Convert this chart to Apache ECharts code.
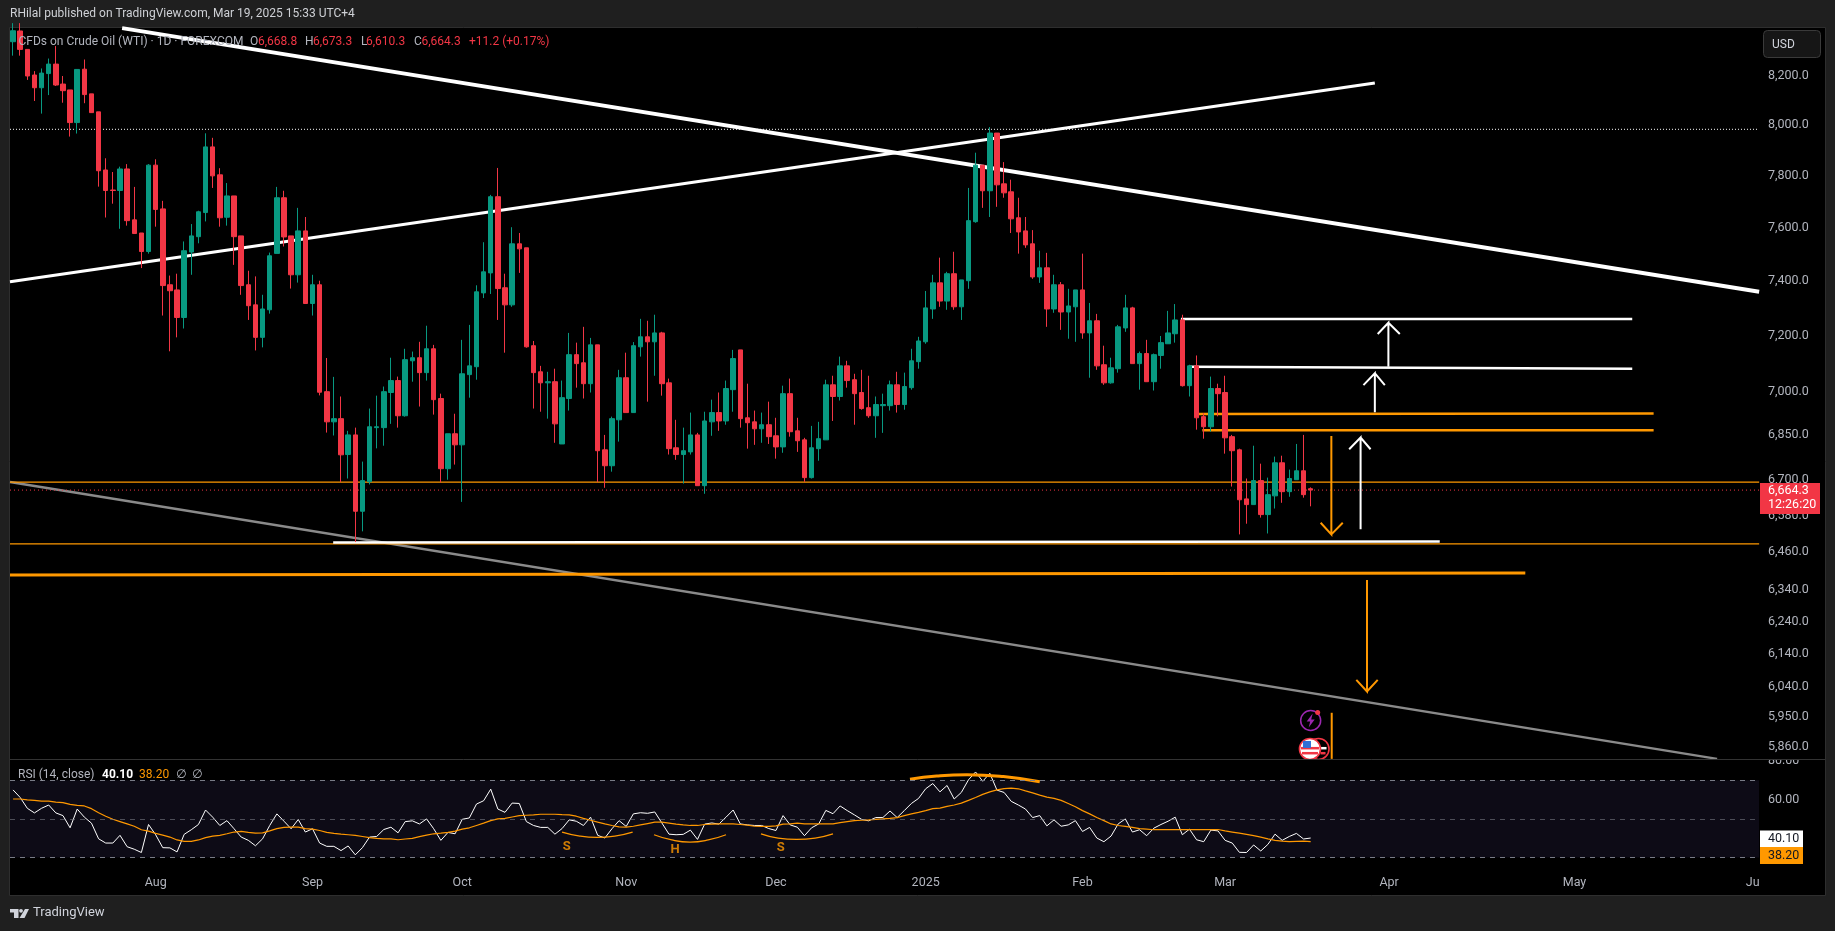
<!DOCTYPE html>
<html><head><meta charset="utf-8">
<style>html,body{margin:0;padding:0;background:#1f1f1f;overflow:hidden}#c{width:1835px;height:931px}</style>
<script src="https://cdn.jsdelivr.net/npm/echarts@6/dist/echarts.min.js"></script>
</head><body><div id="c"></div>
<script>
const FONT='Roboto, "Open Sans", sans-serif';
// ---------- candle data (1D bars, index = bar number) ----------
const opens=[8342,8387,8310,8204,8152,8210,8249,8167,8143,8011,
8228,8127,8054,7823,7745,7743,7827,7630,7580,7510,
7842,7672,7386,7367,7266,7508,7566,7658,7914,7804,
7640,7722,7569,7386,7312,7194,7294,7503,7715,7569,
7423,7588,7317,7386,7001,6896,6907,6784,6851,6594,
6692,6876,6876,6998,7040,6917,7110,7121,7068,7153,
6977,6736,6855,6817,7061,7089,7356,7430,7719,7375,
7312,7539,7524,7164,7071,7032,7036,6820,6977,7132,
7103,7029,7167,6800,6746,6903,7050,6928,7160,7196,
7178,7210,7032,6807,6784,6793,6851,6679,6896,6928,
6899,7008,7149,6910,6896,6872,6886,6848,6810,6994,
6865,6834,6706,6804,6834,7025,6984,7092,7043,6998,
6945,6917,6952,6952,7025,6956,7015,7107,7178,7297,
7393,7326,7427,7305,7401,7623,7842,7742,7969,7769,
7738,7638,7588,7539,7415,7449,7297,7386,7286,7305,
7367,7210,7254,7096,7032,7082,7228,7301,7100,7136,
7036,7129,7171,7207,7257,7022,7092,6914,6879,7012,
6998,6845,6800,6635,6616,6696,6583,6645,6756,6659,
6699,6729,6668.8];
const highs=[8420,8420,8310,8220,8231,8272,8324,8200,8143,8227,
8268,8127,8054,7869,7815,7836,7846,7757,7580,7846,
7865,7703,7420,7427,7548,7614,7665,7968,7950,7830,
7772,7722,7569,7438,7417,7349,7506,7757,7742,7569,
7676,7641,7423,7401,7120,7053,6984,6865,6876,6760,
6942,6987,7019,7121,7054,7153,7143,7178,7236,7167,
6994,6855,6924,7185,7239,7384,7545,7726,7831,7427,
7602,7580,7524,7181,7092,7071,7082,7040,7210,7175,
7232,7192,7167,6851,6914,7078,7139,7177,7261,7254,
7276,7214,7047,6903,6876,6928,6858,6931,6973,6998,
7040,7149,7149,7029,6935,6928,6966,6910,7022,7047,
6910,6841,6882,6896,7043,7057,7125,7110,7064,7078,
7057,6984,6994,7040,7071,7068,7153,7196,7363,7423,
7487,7434,7509,7404,7753,7891,7842,7993,7969,7854,
7785,7715,7641,7591,7513,7505,7423,7396,7371,7367,
7502,7319,7279,7164,7121,7239,7349,7305,7143,7185,
7136,7199,7290,7315,7276,7096,7129,6926,7054,7029,
7057,6851,6804,6703,6814,6753,6706,6777,6780,6733,
6820,6851,6673.3];
const lows=[8284,8284,8184,8098,8047,8122,8159,8091,7955,7967,
8089,8051,7758,7639,7692,7596,7608,7578,7448,7502,
7604,7273,7144,7194,7226,7423,7541,7624,7753,7604,
7608,7460,7349,7257,7147,7158,7280,7503,7529,7372,
7394,7317,7273,6988,6859,6849,6691,6703,6493,6528,
6683,6805,6814,6889,6876,6914,7036,6949,7040,6921,
6690,6699,6750,6625,6980,7043,7337,7352,7257,7139,
7305,7430,7157,6942,6931,6907,6824,6820,6935,7015,
6977,6998,6691,6672,6726,6828,6928,6928,7125,6966,
7057,6987,6784,6766,6686,6784,6679,6652,6848,6865,
6886,6931,6876,6804,6817,6824,6820,6770,6790,6845,
6793,6692,6703,6763,6834,6899,6970,7015,6886,6938,
6910,6841,6858,6935,6928,6938,7008,7082,7171,7261,
7305,7294,7294,7257,7371,7619,7676,7641,7680,7715,
7580,7502,7524,7408,7393,7232,7283,7221,7189,7178,
7189,7050,7078,7025,7029,7068,7214,7100,7008,7036,
7005,7082,7171,7175,7019,6984,6869,6838,6862,6915,
6787,6676,6518,6553,6616,6573,6521,6603,6622,6642,
6699,6639,6610.3];
const closes=[8388,8310,8200,8152,8212,8249,8163,8140,8011,8227,
8124,8051,7820,7743,7743,7827,7627,7578,7510,7842,
7670,7383,7364,7266,7513,7569,7661,7914,7800,7638,
7722,7566,7383,7309,7194,7297,7494,7715,7565,7423,
7588,7317,7386,6999,6896,6907,6783,6851,6594,6696,
6879,6879,7001,7040,6917,7114,7121,7068,7153,6973,
6736,6855,6817,7064,7092,7360,7434,7719,7372,7312,
7539,7520,7160,7068,7032,7036,6889,6980,7132,7100,
7029,7167,6797,6746,6907,7050,6928,7164,7196,7178,
7210,7029,6804,6784,6797,6851,6679,6899,6928,6899,
7012,7118,6907,6893,6872,6886,6845,6810,6994,6862,
6831,6706,6807,6838,7025,6984,7092,7040,6994,6942,
6917,6956,6956,7025,6956,7019,7110,7181,7301,7393,
7326,7427,7305,7404,7627,7842,7742,7969,7765,7734,
7634,7584,7535,7415,7449,7297,7386,7286,7308,7367,
7210,7254,7092,7032,7085,7232,7301,7100,7136,7036,
7132,7175,7210,7257,7022,7092,6910,6879,7012,6994,
6841,6797,6632,6616,6696,6583,6649,6756,6659,6703,
6729,6649,6664.3];
// ---------- RSI (14, close) and its moving average ----------
const rsi=[65.0,61.1,55.5,53.1,55.5,57.2,53.1,51.7,45.4,55.1,
50.9,47.8,39.7,37.5,37.5,41.5,35.6,34.3,32.6,47.1,
41.8,35.1,35.0,32.9,42.0,44.4,47.1,54.6,50.9,46.6,
49.1,44.9,40.6,38.9,36.1,39.7,46.6,52.6,48.8,44.9,
49.7,43.2,44.9,37.5,35.8,35.8,33.6,36.0,31.4,35.1,
40.6,40.9,44.5,45.7,42.8,48.6,49.0,47.4,50.0,44.9,
38.9,43.0,42.3,49.8,50.5,57.7,59.4,65.4,55.1,53.4,
58.2,58.0,48.6,46.6,45.6,45.6,42.1,45.0,49.5,48.8,
46.6,50.9,41.5,40.1,44.9,49.1,46.1,52.6,53.2,52.9,
53.6,47.9,42.1,41.8,42.0,44.2,39.4,47.3,47.9,47.3,
50.9,54.6,47.4,46.9,46.6,46.6,45.0,44.0,51.7,46.9,
45.7,41.3,45.4,47.4,54.4,52.7,56.7,54.3,52.1,49.8,
49.0,50.7,50.7,54.1,50.7,54.3,58.0,60.6,65.6,68.3,
64.0,67.3,60.3,63.7,70.2,74.3,69.5,73.6,64.9,63.7,
59.1,57.2,55.1,50.7,51.7,46.4,49.5,46.2,46.9,49.1,
43.5,45.6,40.1,38.2,41.1,47.4,50.0,43.2,44.4,41.3,
45.2,47.1,48.8,50.9,41.8,44.7,39.2,38.2,44.2,43.8,
38.9,37.5,32.7,32.6,36.5,33.4,36.8,42.1,38.9,40.9,
42.5,39.6,40.1];
const rsiMa=[60.3,60.3,59.9,59.6,59.2,59.2,58.7,58.4,57.5,57.0,
56.7,55.3,53.2,51.4,49.8,48.6,47.4,46.2,44.4,43.7,
42.5,41.6,40.6,39.1,38.4,38.4,39.1,40.3,41.1,41.5,
42.3,43.2,43.5,43.0,42.6,42.8,43.8,45.0,45.6,45.7,
45.7,45.0,44.7,44.0,43.0,42.5,42.1,41.8,41.5,40.9,
40.3,39.9,39.7,39.7,39.2,39.6,39.9,40.8,41.6,42.3,
42.6,43.0,43.7,44.7,45.4,46.6,47.8,49.1,50.0,50.3,
51.0,51.7,51.9,52.1,52.4,52.4,52.4,52.2,52.1,51.4,
50.3,49.3,48.3,47.4,46.6,45.9,45.7,46.2,46.9,47.6,
48.3,48.3,47.8,47.3,46.9,46.6,46.6,47.1,47.3,47.4,
47.4,47.4,47.1,46.8,46.2,46.1,46.1,46.4,47.3,47.4,
47.8,47.4,47.4,47.4,47.4,47.4,48.1,48.6,49.1,49.3,
49.5,49.8,50.0,50.3,50.7,51.7,52.6,53.4,54.3,55.3,
55.6,56.5,57.2,58.2,59.6,61.1,62.7,64.0,65.0,65.7,
65.9,65.6,64.5,63.5,62.3,61.3,60.6,59.6,58.0,56.3,
54.3,52.6,50.7,49.1,47.4,46.6,46.1,45.6,45.0,44.7,
44.4,44.4,44.4,44.5,44.5,44.5,44.5,44.5,44.5,44.5,
43.8,43.2,42.6,42.0,41.3,40.6,39.7,38.9,38.5,38.2,
38.4,38.5,38.2];
// ---------- tick labels ----------
const priceTicks=[8200,8000,7800,7600,7400,7200,7000,6850,6700,6580,6460,6340,6240,6140,6040,5950,5860];
const rsiTicks=[60,80];
const monthTicks=[20,42,63,86,107,128,150,170,193,219,244];
const monthLabels=['Aug','Sep','Oct','Nov','Dec','2025','Feb','Mar','Apr','May','Ju'];
// ---------- drawn annotations: [bar index, price] ----------
const fallingTrend=[[15.3,8399],[244.9,7360]];
const risingTrend=[[-0.43,7397],[191,8171]];
const greyTrend=[[-0.43,6691],[239,5825]];
const peakLevel=[[-0.43,7984],[244.6,7984]];
const lastLevel=[[-0.43,6664.3],[244.9,6664.3]];
const orangeThinA=[[-0.43,6691],[244.9,6691]];
const orangeThinB=[[-0.43,6487],[244.9,6487]];
const orangeThick=[[-0.43,6387],[212.1,6393]];
const supportWhite=[[44.9,6492],[200.1,6495]];
const orangeUpper=[[166.3,6923],[230.1,6925]];
const orangeLower=[[166.8,6867],[230.1,6867]];
const whiteUpper=[[163.8,7260],[227.1,7260]];
const whiteLower=[[164.9,7089],[227.1,7082]];
const arrowW1=[[192.9,7089],[192.9,7247],[191.4,7206],[192.9,7247],[194.5,7206]];
const arrowW2=[[191,6929],[191,7066],[189.4,7024],[191,7066],[192.4,7024]];
const arrowW3=[[189,6535],[189,6842],[187.4,6802],[189,6842],[190.4,6802]];
const arrowO1=[[184.9,6847],[184.9,6518],[183.4,6556],[184.9,6518],[186.5,6556]];
const arrowO2=[[189.9,6371],[189.9,6025],[188.4,6060],[189.9,6025],[191.4,6060]];
const arrowO3=[[184.95,5961],[184.95,5825]];
// RSI pane drawings: [bar index, rsi]
const arcS1=[[77,43.2],[79.5,41.1],[81.9,40.4],[84.4,41.1],[86.9,43.2]];
const arcH=[[89.9,41.8],[92.4,39.1],[94.95,38.0],[97.5,39.1],[100,41.8]];
const arcS2=[[104.9,42.3],[107.3,40.1],[109.9,39.4],[112.5,40.1],[115,42.3]];
const arcTop=[[125.8,70.5],[129.55,72.2],[133.8,72.9],[138.9,71.9],[144,69.2]];
const patternLabels=[[77.65,35.8,'S'],[92.84,34.1,'H'],[107.67,35.0,'S']];
const eventIcons=[[183.1,5854,'flagBack'],[181.9,5854,'flag'],[182,5938,'bolt']];

const X_MIN=-0.428,X_MAX=244.88;
const ORANGE='#ff9800',GREY='#b2b5be',RED='#f23645',GREEN='#089981';
const line=(data,color,width,extra)=>({type:'line',data,showSymbol:false,symbol:'none',silent:true,animation:false,
  xAxisIndex:0,yAxisIndex:0,z:2,lineStyle:Object.assign({color,width,cap:'butt',join:'miter'},extra||{})});
const rline=(data,color,width,smooth)=>({type:'line',data,showSymbol:false,symbol:'none',silent:true,animation:false,smooth:smooth||false,
  xAxisIndex:1,yAxisIndex:1,z:4,lineStyle:{color,width}});
const fmtPrice=v=>v.toLocaleString('en-US',{minimumFractionDigits:1,maximumFractionDigits:1});
const T=(x,y,text,fill,o)=>({type:'text',x,y,z:50,silent:true,style:Object.assign({text,fill,font:'12px '+FONT,textVerticalAlign:'middle'},o||{})});
const R=(x,y,w,h,fill,o)=>({type:'rect',silent:true,z:40,shape:{x,y,width:w,height:h,r:(o&&o.r)||0},style:{fill,stroke:o&&o.stroke,lineWidth:o&&o.lw}});

const flagIcon=(params,api)=>{
  const d=eventIcons[params.dataIndex],c=api.coord([d[0],d[1]]),kind=d[2];
  let ch=[];
  if(kind==='bolt'){
    ch=[{type:'circle',shape:{cx:0,cy:0,r:10},style:{fill:'#000',stroke:'#9c27b0',lineWidth:1.5}},
        {type:'polygon',shape:{points:[[2,-7],[-4,1],[-0.5,1],[-2,7],[4,-1],[0.5,-1]]},style:{fill:'#9c27b0'}},
        {type:'circle',shape:{cx:7,cy:-8,r:2.5},style:{fill:RED}}];
  }else{
    const back=kind==='flagBack';
    ch=[{type:'circle',shape:{cx:0,cy:0,r:10.5},style:{fill:back?'#000':'#fff',stroke:RED,lineWidth:1.6}},
        {type:'rect',shape:{x:back?2:-9,y:-2,width:back?6:18,height:2.5},style:{fill:back?'#fff':RED}},
        {type:'rect',shape:{x:back?2:-8,y:3,width:back?5:16,height:2.5},style:{fill:back?'#f23645':RED}}];
    if(!back)ch.push({type:'rect',shape:{x:-7,y:-8,width:8,height:7},style:{fill:'#2f6fd6'}});
  }
  return {type:'group',x:c[0],y:c[1],children:ch};
};

const option={
  animation:false,backgroundColor:'#1f1f1f',
  grid:[{left:10,top:28,width:1749,height:731},{left:10,top:760,width:1749,height:107}],
  xAxis:[
    {gridIndex:0,type:'value',min:X_MIN,max:X_MAX,show:false,splitLine:{show:false}},
    {gridIndex:1,type:'value',min:X_MIN,max:X_MAX,splitLine:{show:false},axisLine:{show:false},axisTick:{show:false},
     axisLabel:{customValues:monthTicks,color:GREY,fontFamily:FONT,fontSize:12.5,margin:9,hideOverlap:false,showMinLabel:true,showMaxLabel:true,
       formatter:v=>monthLabels[monthTicks.indexOf(v)]||''}}
  ],
  yAxis:[
    {gridIndex:0,type:'log',logBase:10,min:5824.6,max:8399.5,position:'right',splitLine:{show:false},axisLine:{show:false},axisTick:{show:false},
     axisLabel:{customValues:priceTicks,color:GREY,fontFamily:FONT,fontSize:12.5,margin:9,formatter:v=>fmtPrice(v)}},
    {gridIndex:1,type:'value',min:25.1,max:80.5,position:'right',splitLine:{show:false},axisLine:{show:false},axisTick:{show:false},
     axisLabel:{customValues:rsiTicks,color:GREY,fontFamily:FONT,fontSize:12.5,margin:9,formatter:v=>v.toFixed(2)}}
  ],
  series:[
    line(greyTrend,'#8a8a8a',2.5),
    line(orangeThinA,ORANGE,1.2),
    line(orangeThinB,ORANGE,1.2),
    line(peakLevel,'#ffffff',1,{type:[1,2]}),
    line(lastLevel,RED,1,{type:[1,3]}),
    line(fallingTrend,'#ffffff',4),
    line(risingTrend,'#ffffff',3),
    line(orangeThick,ORANGE,3),
    line(supportWhite,'#ffffff',2.5),
    line(orangeUpper,ORANGE,2.5),
    line(orangeLower,ORANGE,2.5),
    line(whiteUpper,'#ffffff',2.5),
    line(whiteLower,'#ffffff',2.5),
    line(arrowW1,'#ffffff',2),line(arrowW2,'#ffffff',2),line(arrowW3,'#ffffff',2),
    line(arrowO1,ORANGE,2),line(arrowO2,ORANGE,2),line(arrowO3,ORANGE,2),
    {type:'candlestick',xAxisIndex:0,yAxisIndex:0,z:5,barWidth:5,animation:false,silent:true,
     data:opens.map((o,i)=>[i,o,closes[i],lows[i],highs[i]]),
     itemStyle:{color:GREEN,color0:RED,borderColor:GREEN,borderColor0:RED,borderWidth:1}},
    {type:'custom',xAxisIndex:0,yAxisIndex:0,z:6,silent:true,animation:false,clip:true,renderItem:flagIcon,
     data:eventIcons.map(d=>[d[0],d[1]]),encode:{x:0,y:1}},
    Object.assign(rline(rsi.map((v,i)=>[i,v]),'#ffffff',1),{
      markArea:{silent:true,itemStyle:{color:'#0d0b16'},data:[[{yAxis:70},{yAxis:30}]]},
      markLine:{silent:true,symbol:'none',animation:false,label:{show:false},
        lineStyle:{type:[5,5],color:'#787b86',width:1},
        data:[{yAxis:70},{yAxis:50,lineStyle:{color:'rgba(120,123,134,0.6)',type:[5,5]}},{yAxis:30}]}
    }),
    rline(rsiMa.map((v,i)=>[i,v]),ORANGE,1.2),
    rline(arcS1,ORANGE,1.3,true),rline(arcH,ORANGE,1.3,true),rline(arcS2,ORANGE,1.3,true),rline(arcTop,ORANGE,3,true),
    {type:'scatter',xAxisIndex:1,yAxisIndex:1,symbolSize:0,z:6,silent:true,animation:false,
     data:patternLabels.map(d=>({value:[d[0],d[1]],label:{formatter:d[2]}})),
     label:{show:true,position:'inside',color:ORANGE,fontFamily:FONT,fontSize:13,fontWeight:'bold'}}
  ],
  graphic:[
    {type:'rect',silent:true,z:-10,zlevel:0,shape:{x:9.5,y:27.5,width:1816,height:868},style:{fill:'#000',stroke:'#2e2e2e',lineWidth:1}},
    R(1760,753,65,6.5,'#000'),
    {type:'line',silent:true,z:41,shape:{x1:10,y1:759.5,x2:1825,y2:759.5},style:{stroke:'#333333',lineWidth:1}},
    T(10,14,'RHilal published on TradingView.com, Mar 19, 2025 15:33 UTC+4','#cfd1d6',{font:'12px '+FONT}),
    T(18.5,42,'CFDs on Crude Oil (WTI) · 1D · FOREXCOM',GREY),
    T(250,42,'O',GREY),T(258,42,'6,668.8',RED),
    T(305,42,'H',GREY),T(313,42,'6,673.3',RED),
    T(361,42,'L',GREY),T(366,42,'6,610.3',RED),
    T(414,42,'C',GREY),T(421.5,42,'6,664.3',RED),
    T(469,42,'+11.2 (+0.17%)',RED),
    R(1763.5,30.5,57,27,'#161616',{r:4,stroke:'#3a3a3a',lw:1}),
    T(1772,44.5,'USD','#d1d4dc',{font:'12px '+FONT}),
    R(1760,483,60,31,RED),
    T(1768,491,'6,664.3','#fff',{font:'12.5px '+FONT}),T(1768,505,'12:26:20','#fff',{font:'12.5px '+FONT}),
    R(1760,830.5,43,17,'#fff'),T(1768,839,'40.10','#131722',{font:'12.5px '+FONT}),
    R(1760,847,43,17,ORANGE),T(1768,856,'38.20','#131722',{font:'12.5px '+FONT}),
    T(18,775,'RSI (14, close)',GREY),
    T(102,775,'40.10','#ffffff',{font:'bold 12px '+FONT}),
    T(139,775,'38.20',ORANGE),
    T(176,775,'∅',GREY,{font:'12px "DejaVu Sans"'}),T(192,775,'∅',GREY,{font:'12px "DejaVu Sans"'}),
    {type:'polygon',silent:true,z:50,shape:{points:[[10,909],[18.5,909],[18.5,918],[14,918],[14,912.5],[10,912.5]]},style:{fill:'#d1d4dc'}},
    {type:'circle',silent:true,z:50,shape:{cx:21,cy:910.8,r:1.9},style:{fill:'#d1d4dc'}},
    {type:'polygon',silent:true,z:50,shape:{points:[[25,909],[29,909],[24.5,918],[19.5,918]]},style:{fill:'#d1d4dc'}},
    T(33,913,'TradingView','#d1d4dc',{font:'13px '+FONT})
  ]
};
const chart=echarts.init(document.getElementById('c'),null,{renderer:'canvas',width:1835,height:931});
chart.setOption(option);
</script></body></html>
